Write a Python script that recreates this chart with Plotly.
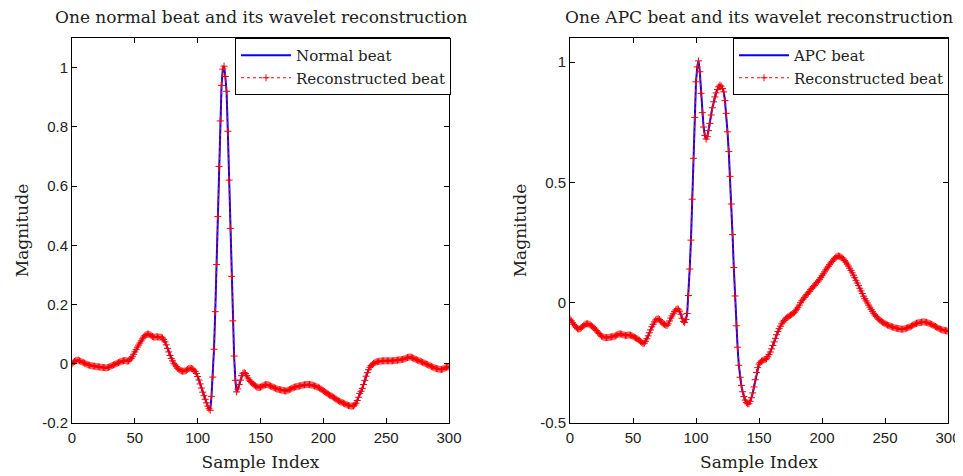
import plotly.graph_objects as go

# ---------------- data ----------------
sample_index = list(range(0, 301))

normal_beat = [
    0.000, 0.005, 0.008, 0.010, 0.012, 0.012, 0.010, 0.008, 0.006, 0.004,
    0.002, 0.000, -0.002, -0.004, -0.005, -0.006, -0.007, -0.008, -0.008, -0.009,
    -0.010, -0.010, -0.011, -0.012, -0.012, -0.013, -0.013, -0.014, -0.013, -0.012,
    -0.010, -0.008, -0.006, -0.004, -0.002, 0.000, 0.002, 0.004, 0.006, 0.008,
    0.009, 0.010, 0.011, 0.010, 0.009, 0.010, 0.013, 0.018, 0.024, 0.032,
    0.040, 0.048, 0.056, 0.063, 0.070, 0.077, 0.084, 0.090, 0.095, 0.098,
    0.100, 0.100, 0.098, 0.095, 0.092, 0.090, 0.090, 0.091, 0.091, 0.090,
    0.090, 0.089, 0.087, 0.082, 0.074, 0.064, 0.052, 0.040, 0.028, 0.018,
    0.010, 0.002, -0.004, -0.010, -0.015, -0.019, -0.022, -0.024, -0.025, -0.025,
    -0.024, -0.022, -0.019, -0.016, -0.015, -0.016, -0.018, -0.021, -0.026, -0.033,
    -0.043, -0.055, -0.068, -0.082, -0.096, -0.108, -0.120, -0.132, -0.143, -0.152,
    -0.157, -0.110, -0.045, 0.049, 0.176, 0.335, 0.497, 0.666, 0.820, 0.940,
    0.995, 1.005, 0.970, 0.920, 0.785, 0.620, 0.457, 0.295, 0.145, 0.026,
    -0.056, -0.095, -0.085, -0.070, -0.055, -0.040, -0.032, -0.030, -0.033, -0.040,
    -0.048, -0.055, -0.060, -0.064, -0.068, -0.072, -0.075, -0.078, -0.080, -0.080,
    -0.079, -0.077, -0.074, -0.072, -0.071, -0.070, -0.071, -0.073, -0.075, -0.077,
    -0.079, -0.081, -0.083, -0.085, -0.086, -0.087, -0.088, -0.089, -0.090, -0.091,
    -0.092, -0.091, -0.089, -0.087, -0.085, -0.083, -0.081, -0.079, -0.078, -0.077,
    -0.076, -0.075, -0.074, -0.073, -0.072, -0.071, -0.070, -0.070, -0.070, -0.070,
    -0.071, -0.072, -0.073, -0.075, -0.076, -0.078, -0.080, -0.082, -0.085, -0.088,
    -0.091, -0.094, -0.097, -0.100, -0.103, -0.106, -0.108, -0.110, -0.113, -0.116,
    -0.119, -0.122, -0.125, -0.127, -0.129, -0.131, -0.133, -0.135, -0.137, -0.139,
    -0.141, -0.142, -0.143, -0.143, -0.142, -0.139, -0.133, -0.124, -0.113, -0.100,
    -0.093, -0.083, -0.070, -0.056, -0.042, -0.030, -0.020, -0.012, -0.006, -0.002,
    0.001, 0.004, 0.006, 0.007, 0.008, 0.009, 0.009, 0.010, 0.010, 0.010,
    0.010, 0.010, 0.010, 0.010, 0.010, 0.010, 0.011, 0.011, 0.012, 0.012,
    0.013, 0.013, 0.014, 0.015, 0.016, 0.017, 0.019, 0.021, 0.022, 0.023,
    0.022, 0.020, 0.018, 0.016, 0.014, 0.012, 0.010, 0.009, 0.007, 0.005,
    0.003, 0.001, -0.001, -0.003, -0.005, -0.007, -0.009, -0.011, -0.013, -0.015,
    -0.016, -0.017, -0.018, -0.019, -0.019, -0.018, -0.016, -0.014, -0.012, -0.011,
    -0.010,
]
# reconstruction is visually indistinguishable from the original
normal_reconstructed = list(normal_beat)

apc_beat = [
    -0.068, -0.075, -0.083, -0.090, -0.097, -0.103, -0.108, -0.110, -0.108, -0.104,
    -0.099, -0.094, -0.090, -0.088, -0.088, -0.089, -0.092, -0.096, -0.100, -0.105,
    -0.110, -0.116, -0.122, -0.128, -0.134, -0.139, -0.142, -0.144, -0.145, -0.145,
    -0.145, -0.144, -0.143, -0.142, -0.141, -0.140, -0.138, -0.135, -0.132, -0.130,
    -0.130, -0.131, -0.133, -0.135, -0.136, -0.136, -0.135, -0.134, -0.135, -0.137,
    -0.140, -0.143, -0.146, -0.149, -0.152, -0.156, -0.161, -0.166, -0.170, -0.168,
    -0.160, -0.150, -0.138, -0.125, -0.113, -0.100, -0.090, -0.080, -0.072, -0.068,
    -0.067, -0.070, -0.076, -0.083, -0.088, -0.090, -0.093, -0.095, -0.088, -0.076,
    -0.064, -0.055, -0.046, -0.037, -0.030, -0.026, -0.027, -0.035, -0.048, -0.065,
    -0.078, -0.082, -0.070, -0.045, 0.030, 0.140, 0.260, 0.430, 0.600, 0.770,
    0.918, 0.980, 1.005, 0.960, 0.870, 0.790, 0.730, 0.695, 0.680, 0.690,
    0.715, 0.745, 0.780, 0.810, 0.835, 0.855, 0.872, 0.886, 0.897, 0.904,
    0.900, 0.890, 0.876, 0.840, 0.787, 0.710, 0.628, 0.525, 0.410, 0.283,
    0.146, 0.028, -0.096, -0.185, -0.260, -0.310, -0.344, -0.370, -0.390, -0.405,
    -0.415, -0.420, -0.420, -0.410, -0.395, -0.375, -0.350, -0.320, -0.290, -0.270,
    -0.255, -0.248, -0.243, -0.240, -0.237, -0.235, -0.233, -0.225, -0.215, -0.205,
    -0.192, -0.178, -0.163, -0.148, -0.133, -0.120, -0.108, -0.098, -0.088, -0.080,
    -0.074, -0.068, -0.063, -0.059, -0.055, -0.052, -0.049, -0.045, -0.040, -0.034,
    -0.027, -0.019, -0.010, 0.000, 0.008, 0.015, 0.022, 0.028, 0.034, 0.040,
    0.047, 0.054, 0.060, 0.066, 0.072, 0.078, 0.084, 0.090, 0.097, 0.104,
    0.112, 0.120, 0.128, 0.136, 0.144, 0.151, 0.158, 0.165, 0.172, 0.178,
    0.184, 0.189, 0.192, 0.194, 0.193, 0.190, 0.186, 0.181, 0.175, 0.168,
    0.160, 0.152, 0.143, 0.134, 0.124, 0.114, 0.104, 0.093, 0.082, 0.071,
    0.060, 0.049, 0.038, 0.027, 0.017, 0.008, -0.001, -0.010, -0.019, -0.028,
    -0.036, -0.044, -0.051, -0.057, -0.063, -0.068, -0.073, -0.077, -0.081, -0.084,
    -0.087, -0.090, -0.093, -0.095, -0.097, -0.099, -0.101, -0.103, -0.105, -0.106,
    -0.107, -0.108, -0.109, -0.110, -0.110, -0.109, -0.108, -0.106, -0.104, -0.102,
    -0.100, -0.097, -0.094, -0.091, -0.088, -0.086, -0.084, -0.083, -0.082, -0.081,
    -0.080, -0.080, -0.081, -0.082, -0.084, -0.086, -0.088, -0.090, -0.093, -0.096,
    -0.099, -0.102, -0.105, -0.108, -0.110, -0.112, -0.114, -0.115, -0.116, -0.117,
    -0.118,
]
apc_reconstructed = list(apc_beat)

x_ticks = [0, 50, 100, 150, 200, 250, 300]
left_y_ticks = [-0.2, 0, 0.2, 0.4, 0.6, 0.8, 1]
left_y_labels = ["-0.2", "0", "0.2", "0.4", "0.6", "0.8", "1"]
right_y_ticks = [-0.5, 0, 0.5, 1]
right_y_labels = ["-0.5", "0", "0.5", "1"]

left_title = "One normal beat and its wavelet reconstruction"
right_title = "One APC beat and its wavelet reconstruction"

# ---------------- figure ----------------
SERIF = "DejaVu Serif, serif"
SANS = "Liberation Sans, Arial, sans-serif"
TXT = "#222222"
OFF = 8                      # page body margin
W, H = 963 - OFF, 476 - OFF  # figure size so it fits the window exactly


def px_x(x):
    return (x - OFF) / W


def px_y(y):
    return 1 - (y - OFF) / H


fig = go.Figure()


def add_pair(orig, recon, name_orig, xa, ya, legend):
    fig.add_trace(go.Scatter(
        x=sample_index, y=orig, mode="lines", name=name_orig,
        line=dict(color="#0000ff", width=2), xaxis=xa, yaxis=ya, legend=legend,
    ))
    fig.add_trace(go.Scatter(
        x=sample_index, y=recon, mode="lines+markers", name="Reconstructed beat",
        line=dict(color="#ff0000", width=1, dash="dot"),
        marker=dict(symbol="cross-thin", size=5, color="#ff0000",
                    line=dict(color="#ff0000", width=1)),
        xaxis=xa, yaxis=ya, legend=legend,
    ))


add_pair(normal_beat, normal_reconstructed, "Normal beat", "x", "y", "legend")
add_pair(apc_beat, apc_reconstructed, "APC beat", "x2", "y2", "legend2")

y_dom = [px_y(423), px_y(38)]
left_dom = [px_x(72), px_x(449)]
right_dom = [px_x(570), px_x(948)]

axis_common = dict(
    showline=True, linecolor="black", linewidth=1, mirror="ticks",
    ticks="inside", ticklen=5, tickcolor="black", showgrid=False, zeroline=False,
    automargin=False,
    tickfont=dict(family=SANS, size=15, color=TXT),
)
xtitle = dict(text="Sample Index", font=dict(family=SERIF, size=17, color=TXT), standoff=11)
ytitle = dict(text="Magnitude", font=dict(family=SERIF, size=17, color=TXT), standoff=9)
legend_common = dict(
    xanchor="right", yanchor="top", bgcolor="white", bordercolor="black", borderwidth=1,
    font=dict(family=SERIF, size=15, color=TXT), tracegroupgap=0, itemwidth=50,
)

fig.update_layout(
    width=W, height=H,
    margin=dict(l=0, r=0, t=0, b=0, autoexpand=False),
    paper_bgcolor="white", plot_bgcolor="white",
    showlegend=True,
    xaxis=dict(domain=left_dom, anchor="y", range=[0, 300], tickvals=x_ticks,
               ticklabelstandoff=1, title=xtitle, **axis_common),
    yaxis=dict(domain=y_dom, anchor="x", range=[-0.2, 1.1], tickvals=left_y_ticks,
               ticktext=left_y_labels, title=ytitle, **axis_common),
    xaxis2=dict(domain=right_dom, anchor="y2", range=[0, 300], tickvals=x_ticks,
                ticklabelstandoff=1, title=xtitle, **axis_common),
    yaxis2=dict(domain=y_dom, anchor="x2", range=[-0.5, 1.1], tickvals=right_y_ticks,
                ticktext=right_y_labels, title=ytitle, **axis_common),
    legend=dict(x=px_x(451), y=y_dom[1], **legend_common),
    legend2=dict(x=px_x(949), y=y_dom[1], **legend_common),
    annotations=[
        dict(text=left_title, x=(left_dom[0] + left_dom[1]) / 2, y=px_y(17),
             xref="paper", yref="paper", showarrow=False, xanchor="center", yanchor="middle",
             font=dict(family=SERIF, size=17, color=TXT)),
        dict(text=right_title, x=(right_dom[0] + right_dom[1]) / 2, y=px_y(17),
             xref="paper", yref="paper", showarrow=False, xanchor="center", yanchor="middle",
             font=dict(family=SERIF, size=17, color=TXT)),
    ],
)

fig.write_html("out.html")
